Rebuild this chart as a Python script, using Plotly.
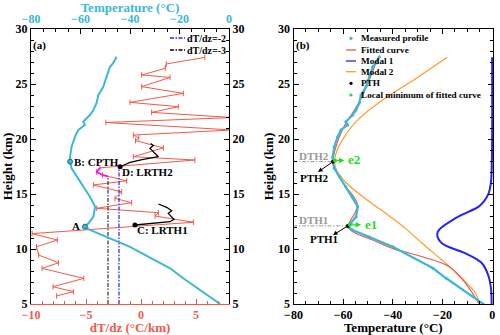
import plotly.graph_objects as go

FONT = "Liberation Serif"
CYAN = "#3cb7d8"
RED = "#ef5a4b"
BLUE = "#2222ff"
ORANGE = "#ff9a22"
GREEN = "#22dd22"
GRAY = "#999999"
DASHDOT = "4px,1.5px,1.5px,1.5px"

# measured temperature profile (deg C vs km)
temp_h = [27.48, 26.9, 26.57, 25.82, 25.3, 24.75, 24.0, 23.27, 22.64, 22.18, 21.57, 21.27,
          20.82, 20.21, 19.3, 18.39, 17.94, 17.34, 16.57, 15.66, 14.75, 13.85, 12.94, 12.34,
          12.03, 11.73, 11.1, 10.2, 8.25, 7.34, 5.0]
temp_T = [-45.4, -46.8, -48.1, -49.4, -50.0, -50.8, -52.8, -53.5, -54.8, -56.2, -58.9, -58.2,
          -60.9, -62.2, -63.6, -64.2, -64.2, -63.6, -61.5, -58.9, -56.2, -54.1, -54.8, -56.8,
          -58.2, -56.2, -49.4, -40.0, -23.8, -18.5, -3.6]

# lapse rate dT/dz
dtdz_h = [27.42, 26.82, 26.42, 25.82, 25.6, 24.76, 24.15, 23.33, 22.94, 22.42, 21.95, 21.5,
          20.82, 20.36, 20.1, 19.85, 19.2, 18.39, 18.09, 17.38, 17.0, 16.72, 16.2, 15.82,
          15.2, 14.6, 14.21, 13.7, 13.3, 13.0, 12.43, 11.4, 10.82, 10.2, 9.45, 8.75, 8.24,
          7.33, 6.57, 6.12, 5.73]
dtdz_g = [5.8, 2.3, 2.2, 0.06, 2.64, 0.06, 3.85, -1.0, 3.39, 0.97, 8.3, -3.2,
          8.3, -0.7, -0.2, -0.5, 2.03, -0.7, 4.9, -3.73, -4.03, -3.5, -1.3, -4.33,
          -1.76, -2.36, -0.85, -4.03, 1.58, 1.27, 4.76, -9.9, -7.6, -9.5, -9.3, -7.5, -9.0,
          -5.2, -8.0, -6.15, -7.67]

lr1_h = [12.18, 12.48, 12.7, 13.24, 13.48, 13.79, 14.09]
lr1_g = [-0.55, 2.64, 3.0, 2.48, 2.79, 2.33, 1.58]
lr2_h = [17.48, 17.7, 17.88, 18.15, 18.39, 19.15, 19.4, 19.6]
lr2_g = [-1.9, -1.45, -1.0, 0.21, 1.58, 0.82, 1.12, 0.88]
cpth_h = [17.38, 17.0, 16.72, 16.6]
cpth_g = [-3.73, -4.03, -3.5, -3.0]

# fitted curves
fit_h = [5.06, 6.88, 8.4, 9.3, 10.06, 10.82, 11.57, 12.0, 12.6, 13.3, 14.0, 14.75, 15.66,
         16.57, 17.4, 17.94, 18.5, 19.6, 20.6, 21.6, 22.6, 23.6, 24.8, 25.9, 27.4]
fit_T = [-5.4, -10.7, -17.4, -28.1, -40.1, -48.1, -56.1, -58.0, -57.0, -55.2, -54.2, -55.8,
         -58.9, -61.6, -63.6, -64.0, -63.8, -62.5, -60.8, -58.5, -55.5, -53.0, -50.5, -48.5, -46.0]
modal1_h = [5.0, 6.5, 7.5, 8.7, 9.6, 10.5, 11.27, 11.73, 12.8, 13.85, 14.3, 15.06, 16.0, 18.0, 27.43]
modal1_T = [-0.2, -0.5, -1.4, -4.1, -10.7, -20.1, -22.1, -21.4, -14.7, -5.4, -3.4, -1.4, -0.5, -0.1, 0.0]
modal2_h = [5.0, 6.0, 7.0, 8.7, 10.5, 11.9, 13.0, 14.75, 16.0, 17.2, 18.1, 19.15, 20.5, 21.9,
            23.55, 25.5, 27.43]
modal2_T = [-5.2, -6.7, -10.7, -18.7, -28.1, -35.0, -41.4, -52.1, -58.7, -62.7, -63.4, -62.1,
            -58.7, -53.4, -44.1, -30.7, -18.1]

pth_T = [-64.1, -58.1]
pth_h = [17.94, 12.1]
locmin_T = [-63.3, -57.3]
locmin_h = [18.05, 12.2]

fig = go.Figure()

# ---- panel (a)
fig.add_trace(go.Scatter(x=dtdz_g, y=dtdz_h, mode="lines+markers",
                         line=dict(color=RED, width=1),
                         marker=dict(symbol="line-ns-open", size=4, color=RED,
                                     line=dict(color=RED, width=1))))
fig.add_trace(go.Scatter(x=[-2, -2], y=[5, 17.48], mode="lines",
                         line=dict(color=BLUE, width=1.2, dash=DASHDOT)))
fig.add_trace(go.Scatter(x=[-3, -3], y=[5, 16.6], mode="lines",
                         line=dict(color="#333333", width=1.2, dash=DASHDOT)))
fig.add_trace(go.Scatter(x=cpth_g, y=cpth_h, mode="lines",
                         line=dict(color="#ff00ff", width=1.6)))
for g, h in [(lr1_g, lr1_h), (lr2_g, lr2_h)]:
    fig.add_trace(go.Scatter(x=g, y=h, mode="lines", line=dict(color="black", width=1.3)))
fig.add_trace(go.Scatter(x=[lr1_g[0], lr2_g[0]], y=[lr1_h[0], lr2_h[0]], mode="markers",
                         marker=dict(color="black", size=5)))
fig.add_trace(go.Scatter(x=temp_T, y=temp_h, mode="lines", xaxis="x2", yaxis="y2",
                         line=dict(color=CYAN, width=2)))
fig.add_trace(go.Scatter(x=[-64.2, -58.2], y=[17.94, 12.03], mode="markers", xaxis="x2", yaxis="y2",
                         marker=dict(color=CYAN, size=5, line=dict(color="#1f6f88", width=1))))

# ---- panel (b)
fig.add_trace(go.Scatter(x=modal1_T, y=modal1_h, mode="lines", xaxis="x3", yaxis="y3",
                         line=dict(color=BLUE, width=2, shape="spline")))
fig.add_trace(go.Scatter(x=modal2_T, y=modal2_h, mode="lines", xaxis="x3", yaxis="y3",
                         line=dict(color=ORANGE, width=1.2, shape="spline")))
fig.add_trace(go.Scatter(x=fit_T, y=fit_h, mode="lines", xaxis="x3", yaxis="y3",
                         line=dict(color=RED, width=1.2, shape="spline")))
fig.add_trace(go.Scatter(x=temp_T, y=temp_h, mode="lines+markers", xaxis="x3", yaxis="y3",
                         line=dict(color=CYAN, width=2.2), marker=dict(color=CYAN, size=3)))
for t, h in zip(pth_T, pth_h):
    fig.add_trace(go.Scatter(x=[-80, t], y=[h, h], mode="lines", xaxis="x3", yaxis="y3",
                             line=dict(color=GRAY, width=1, dash=DASHDOT)))
fig.add_trace(go.Scatter(x=pth_T, y=pth_h, mode="markers", xaxis="x3", yaxis="y3",
                         marker=dict(color="black", size=4)))
fig.add_trace(go.Scatter(x=locmin_T, y=locmin_h, mode="markers", xaxis="x3", yaxis="y3",
                         marker=dict(color=GREEN, size=4)))

tick = dict(family=FONT, size=12, color="black", weight="bold")
ttl = dict(family=FONT, size=13, color="black", weight="bold")
common = dict(showgrid=False, zeroline=False, showline=True, linewidth=1, linecolor="black",
              ticks="inside", ticklen=5, tickcolor="black", automargin=False, tickfont=tick)

# plot area in pixels: x 31..493, y 29..304
ML, MR, MT, MB = 31, 7, 29, 31
PW, PH = 500 - ML - MR, 335 - MT - MB

def px(x):
    return (x - ML) / PW

def py(y):
    return (335 - MB - y) / PH

fig.update_layout(
    width=500, height=335, template="none", showlegend=False,
    margin=dict(l=ML, r=MR, t=MT, b=MB),
    plot_bgcolor="white", paper_bgcolor="white",
    xaxis=dict(common, domain=[0, px(229)], anchor="y", range=[-10, 8], tick0=-10, dtick=5,
               linecolor=RED, tickcolor=RED, tickfont=dict(tick, color=RED),
               minor=dict(ticks="inside", dtick=1, ticklen=3, tickcolor=RED),
               title=dict(text="dT/dz (°C/km)", font=dict(ttl, color=RED), standoff=2)),
    xaxis2=dict(common, overlaying="x", side="top", anchor="y", range=[-80, 0], dtick=20,
                tickfont=dict(tick, color=CYAN),
                minor=dict(ticks="inside", dtick=5, ticklen=3),
                title=dict(text="Temperature (°C)", font=dict(ttl, color=CYAN), standoff=2)),
    yaxis=dict(common, domain=[0, 1], anchor="x", range=[5, 30], dtick=5,
               minor=dict(ticks="inside", dtick=1, ticklen=3),
               title=dict(text="Height (km)", font=ttl, standoff=1)),
    yaxis2=dict(common, overlaying="y", side="right", anchor="x", range=[5, 30], dtick=5,
                minor=dict(ticks="inside", dtick=1, ticklen=3)),
    xaxis3=dict(common, domain=[px(293.5), 1], anchor="y3", range=[-80, 0.35], dtick=20,
                mirror="ticks", minor=dict(ticks="inside", dtick=5, ticklen=3),
                title=dict(text="Temperature (°C)", font=ttl, standoff=2)),
    yaxis3=dict(common, domain=[0, 1], anchor="x3", range=[5, 30], dtick=5, mirror="ticks",
                minor=dict(ticks="inside", dtick=1, ticklen=3),
                title=dict(text="Height (km)", font=ttl, standoff=1)),
)

def txt(x, y, s, xref, yref, size=11, color="black", xanchor="left"):
    fig.add_annotation(x=x, y=y, text=s, xref=xref, yref=yref, showarrow=False,
                       xanchor=xanchor, yanchor="middle",
                       font=dict(family=FONT, size=size, color=color, weight="bold"))

# panel (a) labels
txt(-80, 28.5, "(a)", "x2", "y2", xanchor="left")
txt(-63.6, 17.94, "B: CPTH", "x2", "y2")
txt(-59.2, 12.1, "A", "x2", "y2", xanchor="right")
txt(-1.9, 17.0, "D: LRTH2", "x", "y")
txt(-0.55, 11.7, "C: LRTH1", "x", "y")

# panel (b) labels
txt(-80, 28.5, "(b)", "x3", "y3")
txt(-78.5, 18.45, "DTH2", "x3", "y3", color=GRAY)
txt(-78.5, 12.6, "DTH1", "x3", "y3", color=GRAY)
txt(-78, 16.45, "PTH2", "x3", "y3")
txt(-74, 10.9, "PTH1", "x3", "y3")
txt(-59.0, 18.1, "e2", "x3", "y3", size=13, color=GREEN)
txt(-52.2, 12.2, "e1", "x3", "y3", size=13, color=GREEN)
for (x, y, ax, ay) in [(-70.1, 17.0, -64.1, 17.94), (-64.1, 11.27, -58.1, 12.1)]:
    fig.add_annotation(x=x, y=y, ax=ax, ay=ay, xref="x3", yref="y3", axref="x3", ayref="y3",
                       text="", showarrow=True, arrowhead=2, arrowsize=0.9, arrowwidth=1,
                       arrowcolor="black")
for (x, y, ax) in [(-59.5, 18.05, -63.3), (-52.8, 12.2, -57.3)]:
    fig.add_annotation(x=x, y=y, ax=ax, ay=y, xref="x3", yref="y3", axref="x3", ayref="y3",
                       text="", showarrow=True, arrowhead=2, arrowsize=0.9, arrowwidth=1.2,
                       arrowcolor=GREEN)

# hand-made legends (tight row spacing like the original)
def leg_line(x0, x1, y, color, dash="solid"):
    fig.add_shape(type="line", xref="paper", yref="paper", x0=px(x0), x1=px(x1),
                  y0=py(y), y1=py(y), line=dict(color=color, width=1.3, dash=dash))

def leg_dot(x, y, color, r=1.6):
    fig.add_shape(type="circle", xref="paper", yref="paper", x0=px(x - r), x1=px(x + r),
                  y0=py(y + r), y1=py(y - r), fillcolor=color, line=dict(width=0))

def leg_text(x, y, s, size):
    fig.add_annotation(x=px(x), y=py(y), text=s, xref="paper", yref="paper", showarrow=False,
                       xanchor="left", yanchor="middle",
                       font=dict(family=FONT, size=size, color="black", weight="bold"))

leg_line(170, 185, 38, BLUE, DASHDOT)
leg_text(185, 38, "dT/dz=-2", 10)
leg_line(170, 185, 50, "black", DASHDOT)
leg_text(185, 50, "dT/dz=-3", 10)

rows = [38.3, 50, 61, 71.7, 83.3, 95]
labels = ["Measured profile", "Fitted curve", "Modal 1", "Modal 2", "PTH",
          "Local minimum of fitted curve"]
leg_dot(351, rows[0], CYAN)
leg_line(346, 356, rows[1], RED)
leg_line(346, 356, rows[2], BLUE)
leg_line(346, 356, rows[3], ORANGE)
leg_dot(351, rows[4], "black")
leg_dot(351, rows[5], GREEN)
for y, s in zip(rows, labels):
    leg_text(359, y, s, 9.2)

# the page body has a default 8px margin; drop it so the figure sits at the window corner
fig.write_html("out.html", config={"displayModeBar": False},
               post_script="document.body.style.margin='0px';")
